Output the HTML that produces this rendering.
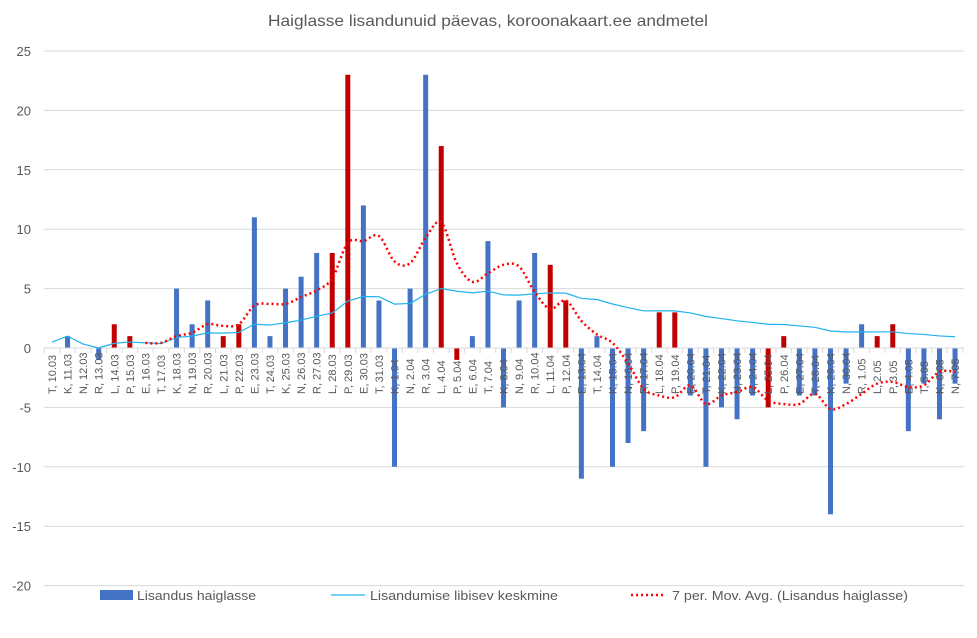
<!DOCTYPE html>
<html><head><meta charset="utf-8"><style>
body{margin:0;background:#fff}
svg{display:block;font-family:"Liberation Sans",sans-serif}
</style></head><body>
<svg id="s" width="977" height="638" xmlns="http://www.w3.org/2000/svg">
<rect width="977" height="638" fill="#fff"/>
<text x="488" y="26" text-anchor="middle" font-size="16" fill="#595959" textLength="440" lengthAdjust="spacingAndGlyphs">Haiglasse lisandunuid päevas, koroonakaart.ee andmetel</text>
<g id="g"></g>
<rect x="100" y="590" width="33" height="10" fill="#4472c4"/>
<text x="137" y="600" font-size="13" fill="#595959" textLength="119" lengthAdjust="spacingAndGlyphs">Lisandus haiglasse</text>
<line x1="331" y1="595" x2="365" y2="595" stroke="#1fb3ef" stroke-width="1.2"/>
<text x="370" y="600" font-size="13" fill="#595959" textLength="188" lengthAdjust="spacingAndGlyphs">Lisandumise libisev keskmine</text>
<line x1="631" y1="595" x2="666" y2="595" stroke="#ff0000" stroke-width="2.5" stroke-dasharray="2 3"/>
<text x="672" y="600" font-size="13" fill="#595959" textLength="236" lengthAdjust="spacingAndGlyphs">7 per. Mov. Avg. (Lisandus haiglasse)</text>
</svg>
<script>
const v=[0,1,0,-1,2,1,0,0,5,2,4,1,2,11,1,5,6,8,8,23,12,4,-10,5,23,17,-1,1,9,-5,4,8,7,4,-11,1,-10,-8,-7,3,3,-4,-10,-5,-6,-4,-5,1,-4,-4,-14,-3,2,1,2,-7,-3,-6,-3];
const L=["T, 10.03","K, 11.03","N, 12.03","R, 13.03","L, 14.03","P, 15.03","E, 16.03","T, 17.03","K, 18.03","N, 19.03","R, 20.03","L, 21.03","P, 22.03","E, 23.03","T, 24.03","K, 25.03","N, 26.03","R, 27.03","L, 28.03","P, 29.03","E, 30.03","T, 31.03","K, 1.04","N, 2.04","R, 3.04","L, 4.04","P, 5.04","E, 6.04","T, 7.04","K, 8.04","N, 9.04","R, 10.04","L, 11.04","P, 12.04","E, 13.04","T, 14.04","K, 15.04","N, 16.04","R, 17.04","L, 18.04","P, 19.04","E, 20.04","T, 21.04","K, 22.04","N, 23.04","R, 24.04","L, 25.04","P, 26.04","E, 27.04","T, 28.04","K, 29.04","N, 30.04","R, 1.05","L, 2.05","P, 3.05","E, 4.05","T, 5.05","K, 6.05","N, 7.05"];
const Z=348,S=11.88,X0=44.2,W=15.57;
const X=i=>X0+W*(i+0.5),Y=u=>Z-u*S;
let h='';
for(let k=-20;k<=25;k+=5){const y=Y(k);
 if(k!==0)h+=`<line x1="44" y1="${y}" x2="964" y2="${y}" stroke="#d9d9d9" stroke-width="1"/>`;
 h+=`<text x="31" y="${y+5}" text-anchor="end" font-size="13" fill="#595959">${k}</text>`;}
for(let i=0;i<v.length;i++){const x=X(i),val=v[i];const red=/^[LP]/.test(L[i]);
 if(val!==0){const y1=Math.min(Z,Y(val)),hh=Math.abs(val)*S;
 h+=`<rect x="${x-2.5}" y="${y1}" width="5" height="${hh}" fill="${red?'#c00000':'#4472c4'}"/>`;}}
h+=`<line x1="44" y1="${Z}" x2="964" y2="${Z}" stroke="#d9d9d9"/>`;
for(let i=0;i<=v.length;i++){const x=X0+W*i;h+=`<line x1="${x}" y1="${Z}" x2="${x}" y2="${Z+5}" stroke="#d9d9d9"/>`;}
for(let i=0;i<v.length;i++){const x=X(i)+4;h+=`<text transform="translate(${x},${Z+46}) rotate(-90)" font-size="11" fill="#595959">${L[i]}</text>`;}
let s=0,pts=[];for(let i=0;i<v.length;i++){s+=v[i];let a=s/(i+1);if(i==0)a=0.5;if(i==1)a=1;pts.push([X(i),Y(a)]);}
h+=`<polyline points="${pts.map(p=>p.join(',')).join(' ')}" fill="none" stroke="#1fb3ef" stroke-width="1.2"/>`;
let m=[];for(let i=6;i<v.length;i++){let t=0;for(let j=i-6;j<=i;j++)t+=v[j];m.push([X(i),Y(t/7)]);}
let d=`M${m[0][0]},${m[0][1]}`;
for(let i=0;i<m.length-1;i++){const p0=m[Math.max(0,i-1)],p1=m[i],p2=m[i+1],p3=m[Math.min(m.length-1,i+2)];
 const c1=[p1[0]+(p2[0]-p0[0])/6,p1[1]+(p2[1]-p0[1])/6],c2=[p2[0]-(p3[0]-p1[0])/6,p2[1]-(p3[1]-p1[1])/6];
 d+=` C${c1[0]},${c1[1]} ${c2[0]},${c2[1]} ${p2[0]},${p2[1]}`;}
h+=`<path d="${d}" fill="none" stroke="#ff0000" stroke-width="2.5" stroke-dasharray="2 3"/>`;
document.getElementById('g').innerHTML=h;
</script>
</body></html>
